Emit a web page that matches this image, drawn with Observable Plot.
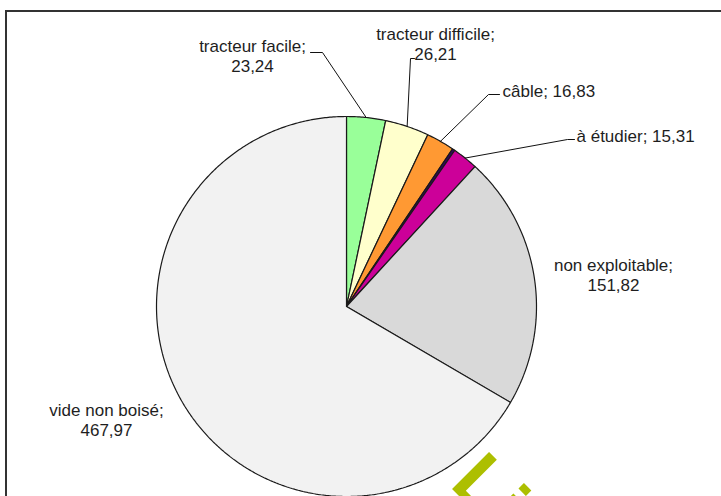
<!DOCTYPE html>
<html>
<head>
<meta charset="utf-8">
<script src="https://cdn.jsdelivr.net/npm/d3@7"></script>
<script src="https://cdn.jsdelivr.net/npm/@observablehq/plot@0.6"></script>
<style>
  html, body { margin: 0; padding: 0; background: #fff; }
  #wrap { position: relative; width: 721px; height: 496px; overflow: hidden; background: #fff; }
  #frame { position: absolute; left: 5px; top: 10px; width: 900px; height: 700px;
           border-top: 2px solid #333; border-left: 2px solid #333; pointer-events: none; }
</style>
</head>
<body>
<div id="wrap"><div id="chart"></div><div id="frame"></div></div>
<script>
// ---- data ----
const categories = ["tracteur facile", "tracteur difficile", "câble", "autre", "à étudier", "non exploitable", "vide non boisé"];
const values     = [23.24, 26.21, 16.83, 1.5, 15.31, 151.82, 467.97];
const colors     = ["#99ff99", "#ffffcc", "#ff9933", "#330066", "#cc0099", "#d9d9d9", "#f2f2f2"];
const labelled   = [true, true, true, false, true, true, true];

// ---- layout (pixel units of the identity scales) ----
const W = 721, H = 496, cx = 346, cy = 306, r = 190;
const labelLayout = {
  "tracteur facile":    {x: 252, y: 55,  anchor: "middle", oneLine: false, leader: [[310, 52], [322, 52]]},
  "tracteur difficile": {x: 435, y: 43,  anchor: "middle", oneLine: false, leader: [[414, 58], [410, 58]]},
  "câble":              {x: 502, y: 91,  anchor: "start",  oneLine: true,  leader: [[499, 94], [488, 94]]},
  "à étudier":          {x: 576, y: 136, anchor: "start",  oneLine: true,  leader: [[574, 139], [567, 139]]},
  "non exploitable":    {x: 613, y: 274, anchor: "middle", oneLine: false, leader: null},
  "vide non boisé":     {x: 106, y: 419, anchor: "middle", oneLine: false, leader: null}
};

const rows = categories.map((c, i) => ({cat: c, value: values[i], labelled: labelled[i]}));
const arcs = d3.pie().sort(null).value(d => d.value)(rows);

const fmt = v => v.toFixed(2).replace(".", ",");
const pt = (a, rad) => ({x: cx + rad * Math.sin(a), y: cy - rad * Math.cos(a)});

// slice polygons
const slicePts = [];
for (const a of arcs) {
  const cat = a.data.cat;
  slicePts.push({cat, x: cx, y: cy});
  const n = Math.max(2, Math.ceil((a.endAngle - a.startAngle) / (Math.PI / 360)));
  for (let i = 0; i <= n; i++) {
    const p = pt(a.startAngle + (a.endAngle - a.startAngle) * i / n, r);
    slicePts.push({cat, ...p});
  }
  slicePts.push({cat, x: cx, y: cy});
}

// leader lines
const leaderPts = [];
for (const a of arcs) {
  const L = labelLayout[a.data.cat];
  if (!a.data.labelled || !L || !L.leader) continue;
  for (const [x, y] of L.leader) leaderPts.push({cat: a.data.cat, x, y});
  leaderPts.push({cat: a.data.cat, ...pt((a.startAngle + a.endAngle) / 2, r)});
}

// labels
const labels = arcs.filter(a => a.data.labelled).map(a => {
  const L = labelLayout[a.data.cat];
  return {
    x: L.x, y: L.y, anchor: L.anchor,
    text: a.data.cat + ";" + (L.oneLine ? " " : "\n") + fmt(a.data.value)
  };
});

const font = "'Liberation Sans', Arial, sans-serif";

const chart = Plot.plot({
  width: W, height: H, margin: 0,
  x: {domain: [0, W], range: [0, W], axis: null},
  y: {domain: [0, H], range: [0, H], axis: null},
  color: {domain: categories, range: colors},
  style: {background: "transparent", fontFamily: font},
  marks: [
    Plot.text(["Li"], {x: () => 448, y: () => 485, text: d => d, rotate: 45, textAnchor: "start", lineAnchor: "bottom",
      fontSize: 76, fontWeight: "bold", fill: "#adbf00", fontFamily: "'Liberation Sans', Arial, sans-serif"}),
    Plot.line(slicePts, {x: "x", y: "y", z: "cat", fill: "cat", stroke: "#1a1a1a", strokeWidth: 1.2, strokeLinejoin: "miter"}),
    Plot.line(leaderPts, {x: "x", y: "y", z: "cat", stroke: "#111", strokeWidth: 1}),
    Plot.text(labels.filter(d => d.anchor === "middle"), {x: "x", y: "y", text: "text", textAnchor: "middle",
      lineAnchor: "middle", lineHeight: 1.15, fontSize: 17, fill: "#1e1e1e", fontFamily: font}),
    Plot.text(labels.filter(d => d.anchor === "start"), {x: "x", y: "y", text: "text", textAnchor: "start",
      lineAnchor: "middle", fontSize: 17, fill: "#1e1e1e", fontFamily: font})
  ]
});
document.getElementById("chart").appendChild(chart);
</script>
</body>
</html>
